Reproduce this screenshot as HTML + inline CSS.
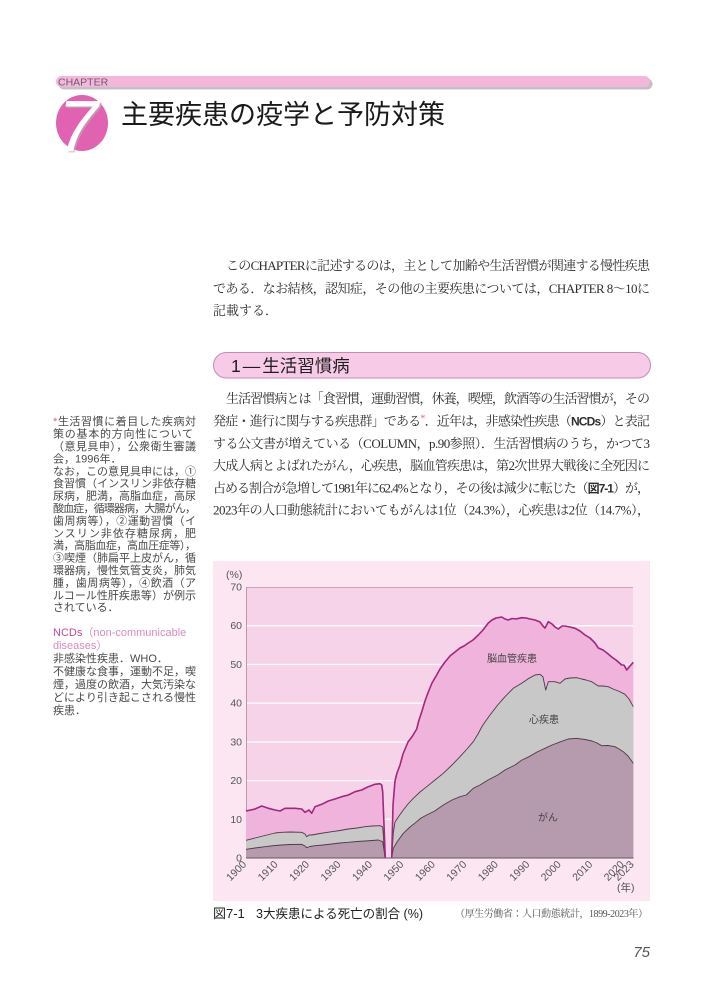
<!DOCTYPE html>
<html lang="ja">
<head>
<meta charset="utf-8">
<style>
  html,body{margin:0;padding:0;background:#fff;}
  body{width:709px;height:1000px;overflow:hidden;position:relative;}
  svg{position:absolute;left:0;top:0;}
  .serif{font-family:"Liberation Serif","Noto Serif CJK SC",serif;}
  .sans{font-family:"Liberation Sans","Noto Sans CJK JP",sans-serif;}
  .body{font-size:13px;fill:#2e2e2e;}
  .side{font-size:11px;fill:#4a4a4a;}
  .tick{font-size:10.5px;fill:#555;}
  .lab{font-size:10px;fill:#444;}
</style>
</head>
<body>
<svg width="709" height="1000" viewBox="0 0 709 1000" xmlns="http://www.w3.org/2000/svg">
  <!-- CHAPTER bar -->
  <rect x="58.5" y="78.5" width="594" height="11" rx="5.5" fill="#8f8f8f" opacity="0.55"/>
  <rect x="56" y="76" width="594" height="11" rx="5.5" fill="#f4b7dc"/>
  <text x="58" y="85.5" class="sans" font-size="10.5" fill="#6e5a6b">CHAPTER</text>

  <!-- Chapter 7 mark -->
  <ellipse cx="82" cy="123" rx="26" ry="28" fill="#e062b0"/>
  <text x="59.5" y="152.5" font-family="'Liberation Sans',sans-serif" font-style="italic" font-size="72" fill="#b8b8b8" opacity="0.6">7</text>
  <text x="58" y="151" font-family="'Liberation Sans',sans-serif" font-style="italic" font-size="72" fill="#ffffff">7</text>

  <!-- Title -->
  <text x="121" y="124" class="sans" font-size="27" fill="#1a1a1a">主要疾患の疫学と予防対策</text>

  <!-- Paragraph 1 -->
  <text x="226" y="270" class="serif body" textLength="424" lengthAdjust="spacing">このCHAPTERに記述するのは，主として加齢や生活習慣が関連する慢性疾患</text>
  <text x="213" y="293" class="serif body" textLength="437" lengthAdjust="spacing">である．なお結核，認知症，その他の主要疾患については，CHAPTER 8～10に</text>
  <text x="213" y="315" class="serif body">記載する．</text>

  <!-- Section heading -->
  <rect x="213.5" y="352.5" width="437" height="25.5" rx="12.75" fill="#f7cbe7" stroke="#c28cb2" stroke-width="1"/>
  <text x="231" y="372" class="sans" font-size="17.5" fill="#1e1e1e">1<tspan dx="2">―</tspan><tspan dx="2">生活習慣病</tspan></text>

  <!-- Paragraph 2 -->
  <text x="226" y="403" class="serif body" textLength="424" lengthAdjust="spacing">生活習慣病とは「食習慣，運動習慣，休養，喫煙，飲酒等の生活習慣が，その</text>
  <text x="213" y="425.5" class="serif body" textLength="437" lengthAdjust="spacing">発症・進行に関与する疾患群」である<tspan fill="#e060a8" font-size="10" dy="-4">*</tspan><tspan dy="4">．近年は，非感染性疾患（</tspan><tspan class="sans" font-weight="bold" font-size="12">NCDs</tspan>）と表記</text>
  <text x="213" y="448" class="serif body" textLength="437" lengthAdjust="spacing">する公文書が増えている（COLUMN，p.90参照）．生活習慣病のうち，かつて3</text>
  <text x="213" y="470" class="serif body" textLength="437" lengthAdjust="spacing">大成人病とよばれたがん，心疾患，脳血管疾患は，第2次世界大戦後に全死因に</text>
  <text x="213" y="492.5" class="serif body" textLength="437" lengthAdjust="spacing">占める割合が急増して1981年に62.4%となり，その後は減少に転じた（<tspan class="sans" font-weight="bold" font-size="12">図7-1</tspan>）が，</text>
  <text x="213" y="514.5" class="serif body" textLength="437" lengthAdjust="spacing">2023年の人口動態統計においてもがんは1位（24.3%），心疾患は2位（14.7%），</text>

  <!-- Sidebar block 1 -->
  <g class="sans side">
    <text x="53" y="425.2" textLength="143" lengthAdjust="spacing"><tspan fill="#e060a8">*</tspan>生活習慣に着目した疾病対</text>
    <text x="53" y="437.6" textLength="140" lengthAdjust="spacing">策の基本的方向性について</text>
    <text x="53" y="450" textLength="143" lengthAdjust="spacing">（意見具申），公衆衛生審議</text>
    <text x="53" y="462.4">会，1996年．</text>
    <text x="53" y="474.8" textLength="143" lengthAdjust="spacing">なお，この意見具申には，①</text>
    <text x="53" y="487.2" textLength="143" lengthAdjust="spacing">食習慣（インスリン非依存糖</text>
    <text x="53" y="499.6" textLength="143" lengthAdjust="spacing">尿病，肥満，高脂血症，高尿</text>
    <text x="53" y="512" textLength="143" lengthAdjust="spacing">酸血症，循環器病，大腸がん，</text>
    <text x="53" y="524.4" textLength="143" lengthAdjust="spacing">歯周病等），②運動習慣（イ</text>
    <text x="53" y="536.8" textLength="143" lengthAdjust="spacing">ンスリン非依存糖尿病，肥</text>
    <text x="53" y="549.2" textLength="143" lengthAdjust="spacing">満，高脂血症，高血圧症等），</text>
    <text x="53" y="561.6" textLength="143" lengthAdjust="spacing">③喫煙（肺扁平上皮がん，循</text>
    <text x="53" y="574" textLength="143" lengthAdjust="spacing">環器病，慢性気管支炎，肺気</text>
    <text x="53" y="586.4" textLength="143" lengthAdjust="spacing">腫，歯周病等），④飲酒（ア</text>
    <text x="53" y="598.8" textLength="143" lengthAdjust="spacing">ルコール性肝疾患等）が例示</text>
    <text x="53" y="611.2">されている．</text>
  </g>
  <!-- Sidebar block 2 -->
  <g class="sans side">
    <text x="53" y="636.2"><tspan fill="#c4479a">NCDs</tspan><tspan fill="#d88cc0">（non-communicable</tspan></text>
    <text x="53" y="649.2" fill="#d88cc0">diseases）</text>
    <text x="53" y="662.2">非感染性疾患．WHO．</text>
    <text x="53" y="675.2" textLength="143" lengthAdjust="spacing">不健康な食事，運動不足，喫</text>
    <text x="53" y="688.2" textLength="143" lengthAdjust="spacing">煙，過度の飲酒，大気汚染な</text>
    <text x="53" y="701.2" textLength="143" lengthAdjust="spacing">どにより引き起こされる慢性</text>
    <text x="53" y="714.2">疾患．</text>
  </g>

  <!-- Chart box -->
  <rect x="213" y="561" width="437" height="340" fill="#fbe6f2"/>
  <rect x="246" y="587" width="387" height="271" fill="#f7d3ea"/>
  <g stroke="#ffffff" stroke-width="1.3">
    <line x1="246" y1="625.7" x2="633" y2="625.7"/>
    <line x1="246" y1="664.5" x2="633" y2="664.5"/>
    <line x1="246" y1="703.2" x2="633" y2="703.2"/>
    <line x1="246" y1="742" x2="633" y2="742"/>
    <line x1="246" y1="780.6" x2="633" y2="780.6"/>
    <line x1="246" y1="819.3" x2="633" y2="819.3"/>
  </g>
  <line x1="246" y1="587.5" x2="633" y2="587.5" stroke="#c7a5bc" stroke-width="1"/>
  <line x1="246.5" y1="587" x2="246.5" y2="858" stroke="#b79aad" stroke-width="1"/>

  <!-- Cerebrovascular (total) fill -->
  <path fill="#f0b3dc" d="M246,858 L246,811 L255,809 L261.7,806 L268.3,808.3 L275,810 L280,811 L285,808.3 L295,808.3 L301.7,809 L305,812.3 L309,810 L311.7,813.3 L315,806.7 L321.7,804.3 L328.3,801 L335,799 L341.7,796.7 L348.3,795 L355,791.7 L361.7,790 L368.3,786.7 L375,784.3 L380,783.7 L381.7,785 L382.7,791.7 L384,825 L385.3,858 Z"/>
  <path fill="#f0b3dc" d="M391.7,858 L393,805 L395,781 L397,773 L400,765 L403,754 L408,742 L412.5,736 L416.7,729 L419,720 L421.7,712 L425,701 L428.3,692 L432,683 L436.7,675 L440,669 L445,662 L450,656 L455,652 L460,648 L464,646 L468.3,643 L473,640 L478.3,635 L483,630 L488.3,623 L492,620 L496,618 L501.7,617 L505,619 L508.3,620 L512,618.5 L516,619 L521.7,617.7 L526,618 L530,619 L535,620 L540,622 L543,626 L545,628 L548.3,621.7 L552,624 L555,627 L558.3,629 L562,626 L565,626 L570,627 L575,628.3 L580,631 L585,635 L590,638 L595,643 L598.3,648 L603,650 L607,653 L611.7,657 L616,660 L621.7,665 L624,665 L626.7,670 L630,666 L633.3,662.3 L633.3,858 Z"/>

  <!-- Heart (gray) fill -->
  <path fill="#c8c8c8" d="M246,858 L246,840.3 L255,838 L265,835.5 L275,833 L281.7,832.3 L290,832 L301.7,832.3 L305,834 L306.7,836.7 L309,835 L311.7,835 L320,833.5 L331.7,831.7 L340,830.5 L348.3,829 L357,828 L365,826.7 L372,826 L380,825.7 L382.7,827 L384,845 L385,858 Z"/>
  <path fill="#c8c8c8" d="M391.7,858 L393.3,833 L395,822 L399,816 L403.3,810 L408,804 L413.3,798.3 L420,792 L426.7,786.7 L435,780 L443.3,773.3 L452,765 L460,756.7 L467,749 L473.3,741.7 L478,734 L481.7,727 L485,722 L490,715 L497.7,705 L505,696.7 L513.3,688.3 L521.7,683.3 L529,678.3 L535,675 L540,674.3 L543,677 L545.7,690 L548.3,681.7 L555,681.7 L560,683.3 L565,679 L570,678 L576.7,677.7 L581.7,679 L586,680 L591.7,681.7 L598.3,686 L603,686 L608.3,686.7 L613,689 L618.3,691 L625,694.3 L629,699 L633.3,706.7 L633.3,858 Z"/>

  <!-- Cancer (mauve) fill -->
  <path fill="#b69aad" d="M246,858 L246,849.3 L255,848 L265,846.7 L275,845.5 L281.7,845 L290,844.5 L301.7,844.3 L305,846 L306.7,847.7 L310,846.5 L315,845.7 L323,845 L331.7,844 L340,843 L348.3,842.3 L357,841.5 L365,841 L372,840.5 L378.3,840 L382.7,841.7 L384,850 L385,858 Z"/>
  <path fill="#b69aad" d="M391.7,858 L393.3,848.3 L397,842 L403.3,833.3 L410,827 L416.7,821.7 L421,818 L426.7,815 L434.7,811 L443.3,805 L452,800 L460,796.7 L466.3,795 L473.3,788.3 L480,785 L488,780 L497.7,775 L505,770 L515,765 L522,760 L529,756.7 L537,752 L545,748.3 L552,745 L560.7,741.7 L568.3,739 L576.3,738.3 L585,739.5 L592,741 L597,743 L601.7,745.7 L608,745.5 L615,746.7 L619,749 L623.3,751.7 L628,756 L633.3,763.3 L633.3,858 Z"/>

  <!-- Lines -->
  <g fill="none" stroke-linejoin="round">
    <polyline stroke="#4d3b47" stroke-width="0.9" points="246,849.3 255,848 265,846.7 275,845.5 281.7,845 290,844.5 301.7,844.3 305,846 306.7,847.7 310,846.5 315,845.7 323,845 331.7,844 340,843 348.3,842.3 357,841.5 365,841 372,840.5 378.3,840 382.7,841.7 384,850 385,858"/>
    <polyline stroke="#4d3b47" stroke-width="0.9" points="391.7,858 393.3,848.3 397,842 403.3,833.3 410,827 416.7,821.7 421,818 426.7,815 434.7,811 443.3,805 452,800 460,796.7 466.3,795 473.3,788.3 480,785 488,780 497.7,775 505,770 515,765 522,760 529,756.7 537,752 545,748.3 552,745 560.7,741.7 568.3,739 576.3,738.3 585,739.5 592,741 597,743 601.7,745.7 608,745.5 615,746.7 619,749 623.3,751.7 628,756 633.3,763.3"/>
    <polyline stroke="#4d3b47" stroke-width="0.9" points="246,840.3 255,838 265,835.5 275,833 281.7,832.3 290,832 301.7,832.3 305,834 306.7,836.7 309,835 311.7,835 320,833.5 331.7,831.7 340,830.5 348.3,829 357,828 365,826.7 372,826 380,825.7 382.7,827 384,845 385,858"/>
    <polyline stroke="#4d3b47" stroke-width="0.9" points="391.7,858 393.3,833 395,822 399,816 403.3,810 408,804 413.3,798.3 420,792 426.7,786.7 435,780 443.3,773.3 452,765 460,756.7 467,749 473.3,741.7 478,734 481.7,727 485,722 490,715 497.7,705 505,696.7 513.3,688.3 521.7,683.3 529,678.3 535,675 540,674.3 543,677 545.7,690 548.3,681.7 555,681.7 560,683.3 565,679 570,678 576.7,677.7 581.7,679 586,680 591.7,681.7 598.3,686 603,686 608.3,686.7 613,689 618.3,691 625,694.3 629,699 633.3,706.7"/>
    <polyline stroke="#a0287e" stroke-width="1.6" points="246,811 255,809 261.7,806 268.3,808.3 275,810 280,811 285,808.3 295,808.3 301.7,809 305,812.3 309,810 311.7,813.3 315,806.7 321.7,804.3 328.3,801 335,799 341.7,796.7 348.3,795 355,791.7 361.7,790 368.3,786.7 375,784.3 380,783.7 381.7,785 382.7,791.7 384,825 385.3,858"/>
    <polyline stroke="#a0287e" stroke-width="1.6" points="391.7,858 393,805 395,781 397,773 400,765 403,754 408,742 412.5,736 416.7,729 419,720 421.7,712 425,701 428.3,692 432,683 436.7,675 440,669 445,662 450,656 455,652 460,648 464,646 468.3,643 473,640 478.3,635 483,630 488.3,623 492,620 496,618 501.7,617 505,619 508.3,620 512,618.5 516,619 521.7,617.7 526,618 530,619 535,620 540,622 543,626 545,628 548.3,621.7 552,624 555,627 558.3,629 562,626 565,626 570,627 575,628.3 580,631 585,635 590,638 595,643 598.3,648 603,650 607,653 611.7,657 616,660 621.7,665 624,665 626.7,670 630,666 633.3,662.3"/>
  </g>
  <line x1="246" y1="858" x2="633.5" y2="858" stroke="#6a5764" stroke-width="1"/>

  <!-- Axis labels -->
  <text x="226" y="578" class="sans tick">(%)</text>
  <g class="sans tick" text-anchor="end">
    <text x="242" y="590.5">70</text>
    <text x="242" y="629.2">60</text>
    <text x="242" y="668">50</text>
    <text x="242" y="706.7">40</text>
    <text x="242" y="745.5">30</text>
    <text x="242" y="784.1">20</text>
    <text x="242" y="822.8">10</text>
    <text x="242" y="861.5">0</text>
  </g>
  <g class="sans tick" text-anchor="end">
    <text transform="translate(247,865) rotate(-45)">1900</text>
    <text transform="translate(278.5,865) rotate(-45)">1910</text>
    <text transform="translate(309.9,865) rotate(-45)">1920</text>
    <text transform="translate(341.4,865) rotate(-45)">1930</text>
    <text transform="translate(372.9,865) rotate(-45)">1940</text>
    <text transform="translate(404.3,865) rotate(-45)">1950</text>
    <text transform="translate(435.8,865) rotate(-45)">1960</text>
    <text transform="translate(467.2,865) rotate(-45)">1970</text>
    <text transform="translate(498.7,865) rotate(-45)">1980</text>
    <text transform="translate(530.2,865) rotate(-45)">1990</text>
    <text transform="translate(561.6,865) rotate(-45)">2000</text>
    <text transform="translate(593.1,865) rotate(-45)">2010</text>
    <text transform="translate(624.6,865) rotate(-45)">2020</text>
    <text transform="translate(634.5,865) rotate(-45)">2023</text>
  </g>
  <text x="617" y="891" class="sans" font-size="10.5" fill="#555">(年)</text>

  <!-- Series labels -->
  <g class="sans lab" text-anchor="middle">
    <text x="512" y="662">脳血管疾患</text>
    <text x="544" y="723">心疾患</text>
    <text x="548" y="821">がん</text>
  </g>

  <!-- Caption -->
  <text x="213" y="918" class="sans" font-size="13" fill="#222">図7-1</text>
  <text x="256" y="918" class="sans" font-size="12.5" fill="#222">3大疾患による死亡の割合 (%)</text>
  <text x="455" y="917" class="serif" font-size="10" fill="#555" textLength="193" lengthAdjust="spacing">（厚生労働省：人口動態統計，1899-2023年）</text>

  <!-- Page number -->
  <text x="650" y="957" text-anchor="end" font-family="'Liberation Sans',sans-serif" font-style="italic" font-size="15" fill="#555">75</text>
</svg>
</body>
</html>
